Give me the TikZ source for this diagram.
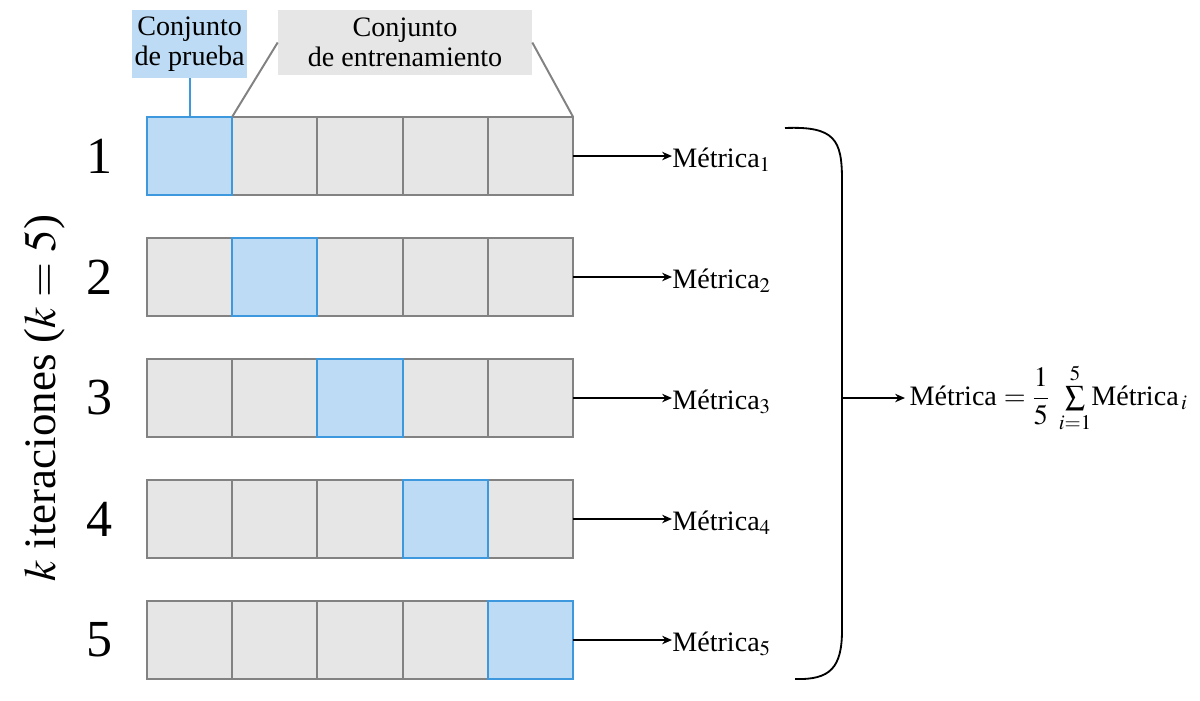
\documentclass[tikz,border=0pt]{standalone}
\usepackage{mathptmx}
\usepackage[no-math]{fontspec}
\setmainfont{Liberation Serif}
\usetikzlibrary{arrows.meta}

\definecolor{celdagris}{RGB}{230,230,230}
\definecolor{bordegris}{RGB}{130,130,130}
\definecolor{celdaazul}{RGB}{189,219,244}
\definecolor{bordeazul}{RGB}{62,152,222}

\tikzset{
  celda/.style={draw=bordegris, fill=celdagris, line width=1.4pt, minimum width=2.13cm, minimum height=1.96cm, outer sep=0pt, inner sep=0pt},
  prueba/.style={celda, draw=bordeazul, fill=celdaazul},
  etiqueta/.style={font=\fontsize{20}{21.5}\selectfont, align=center, inner sep=0pt},
  flecha/.style={-{Stealth[length=7pt,width=6pt]}, line width=1.2pt},
}

\begin{document}
\begin{tikzpicture}[x=0.025cm, y=-0.025cm]
\useasboundingbox (0,0) rectangle (1200,700);

% Eje
\node[rotate=90, font=\fontsize{32}{32}\selectfont] (eje) at (45,398) {$k$ iteraciones ($k=5$)};

% Iteraciones
\foreach \r in {1,...,5} {
  \pgfmathsetmacro{\yy}{156+121*(\r-1)}
  \node[font=\fontsize{37}{37}\selectfont] (num\r) at (100,\yy) {\r};
  \foreach \c in {1,...,5} {
    \ifnum\c=\r\relax\else
      \node[celda] (c\r\c) at ({189.6+85.2*(\c-1)},\yy) {};
    \fi
  }
  \node[prueba] (c\r\r) at ({189.6+85.2*(\r-1)},\yy) {};
  \node[etiqueta, anchor=west] (m\r) at (672,\yy+4) {Métrica$_{\r}$};
  \draw[flecha] (c\r5.east) -- (c\r5.east -| m\r.west);
}

% Conjuntos
\node[etiqueta, fill=celdaazul, minimum width=2.875cm, minimum height=1.7cm] (prueba) at (189.6,44) {Conjunto\\de prueba};
\node[etiqueta, fill=celdagris, minimum width=6.35cm, minimum height=1.63cm] (entrena) at (405,42.5) {Conjunto\\de entrenamiento};
\draw[bordeazul, line width=1.4pt] (prueba.south) -- (c11.north);
\draw[bordegris, line width=1.4pt] (entrena.west) -- (c12.north west);
\draw[bordegris, line width=1.4pt] (entrena.east) -- (c15.north east);

% Llave
\draw[line width=1.3pt] (785,128) .. controls (835,126) and (842,140) .. (842,180) -- (842,630) .. controls (842,668) and (830,680) .. (795,679);
\coordinate (llave) at (842,398);

% Promedio
\node[etiqueta, anchor=west, inner xsep=3pt] (metrica) at (905,398) {Métrica $=\displaystyle\frac{1}{5}\;\textstyle\sum\limits_{i=1}^{5}$Métrica$_{\,i}$};
\draw[flecha] (llave) -- (metrica.west);
\end{tikzpicture}
\end{document}
